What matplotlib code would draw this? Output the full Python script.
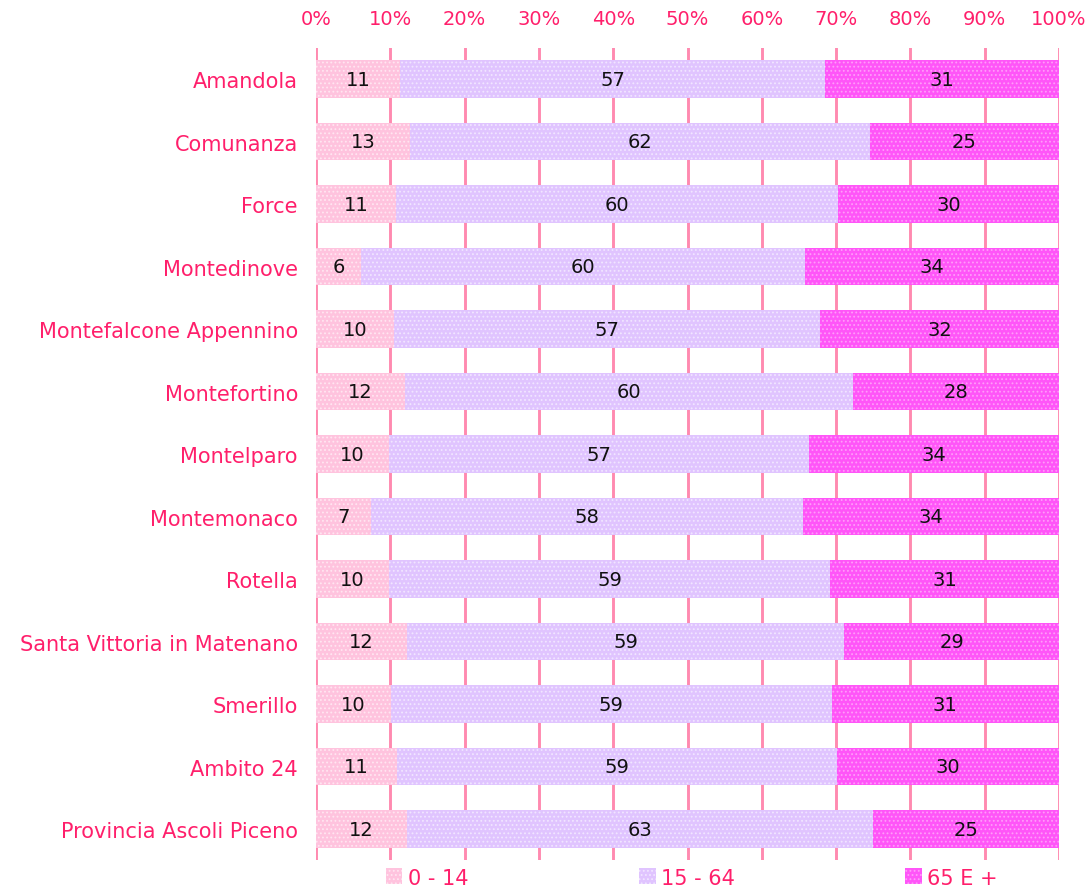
import numpy as np
import matplotlib
matplotlib.use("Agg")
import matplotlib.pyplot as plt

comuni = ["Amandola", "Comunanza", "Force", "Montedinove", "Montefalcone Appennino",
          "Montefortino", "Montelparo", "Montemonaco", "Rotella",
          "Santa Vittoria in Matenano", "Smerillo", "Ambito 24", "Provincia Ascoli Piceno"]

# share of population (%)
eta_0_14 = [11.3, 12.65, 10.8, 6.1, 10.5, 12.0, 9.8, 7.4, 9.8, 12.2, 10.1, 10.9, 12.3]
eta_15_64 = [57.2, 61.9, 59.5, 59.7, 57.3, 60.3, 56.6, 58.1, 59.4, 58.9, 59.3, 59.2, 62.6]
eta_65 = [31.5, 25.45, 29.7, 34.2, 32.2, 27.7, 33.6, 34.5, 30.8, 28.9, 30.6, 29.9, 25.1]

# numbers printed inside the bars
lab_0_14 = [11, 13, 11, 6, 10, 12, 10, 7, 10, 12, 10, 11, 12]
lab_15_64 = [57, 62, 60, 60, 57, 60, 57, 58, 59, 59, 59, 59, 63]
lab_65 = [31, 25, 30, 34, 32, 28, 34, 34, 31, 29, 31, 30, 25]

legenda = ["0 - 14", "15 - 64", "65 E +"]
colori = ["#FFC3DE", "#E0C4FF", "#FF55F8"]
tratti = ["#FFE6F1", "#F1E6FF", "#FF9CFA"]
rosa = "#FF1F6B"

plt.rcParams['font.family'] = ['DejaVu Sans']
plt.rcParams['hatch.linewidth'] = 0.8

fig = plt.figure(figsize=(10.92, 8.87), dpi=100)
ax = fig.add_axes([0.2894, 0.029, 0.6804, 0.916])

y = np.arange(len(comuni))
serie = [eta_0_14, eta_15_64, eta_65]
etichette = [lab_0_14, lab_15_64, lab_65]
left = np.zeros(len(comuni))
handles = []
for vals, labs, col, hc, name in zip(serie, etichette, colori, tratti, legenda):
    vals = np.array(vals)
    bars = ax.barh(y, vals, left=left, height=0.6, color=col, edgecolor=hc,
                   linewidth=0, hatch='....', label=name, zorder=3)
    handles.append(bars)
    for yi, l, v, lab in zip(y, left, vals, labs):
        ax.text(l + v / 2, yi, str(lab), ha='center', va='center',
                fontsize=14, color='#111111', zorder=4)
    left = left + vals

ax.set_xlim(0, 100)
ax.set_ylim(len(comuni) - 0.5, -0.5)
ax.set_xticks(np.arange(0, 101, 10))
ax.set_xticklabels([f"{t}%" for t in range(0, 101, 10)])
ax.xaxis.tick_top()
ax.tick_params(axis='x', length=0, pad=14, labelsize=14, labelcolor=rosa)
ax.set_yticks(y)
ax.set_yticklabels(comuni)
ax.tick_params(axis='y', length=0, pad=13, labelsize=15, labelcolor=rosa)
for s in ax.spines.values():
    s.set_visible(False)
ax.grid(axis='x', color='#FF8AB0', linestyle='-', linewidth=2.1, zorder=0)
ax.grid(axis='y', visible=False)

fig.legend(handles=handles, labels=legenda, loc='center', bbox_to_anchor=(0.6335, 0.0095),
           ncol=3, frameon=False, fontsize=15, labelcolor=rosa, handlelength=0.8,
           handleheight=0.8, handletextpad=0.25, columnspacing=8.2, borderpad=0)

fig.savefig("out.png", dpi=100)
